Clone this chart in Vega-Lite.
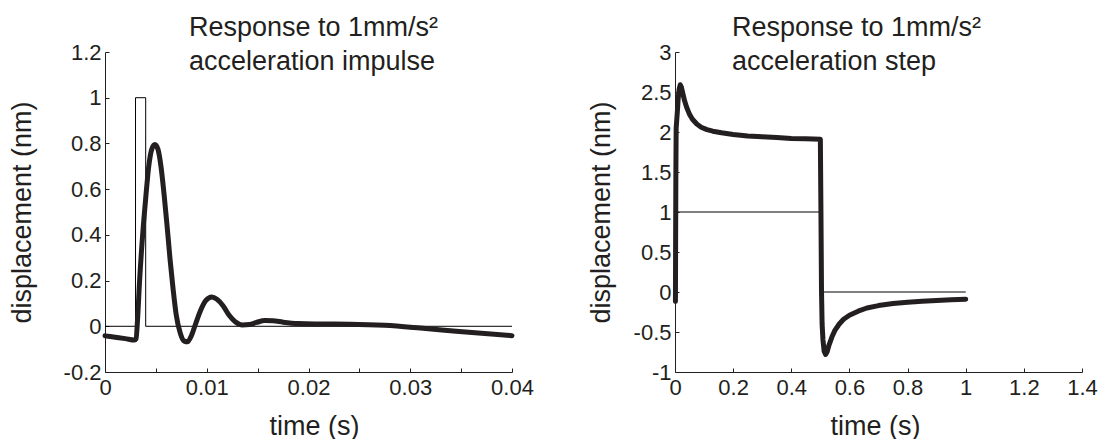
{
  "$schema": "https://vega.github.io/schema/vega-lite/v6.json",
  "padding": {"left": 8, "top": 14, "right": 0, "bottom": 0},
  "spacing": 53,
  "config": {
    "view": {"stroke": null},
    "font": "Liberation Sans",
    "locale": {"number": {"decimal": ".", "thousands": ",", "grouping": [3], "currency": ["$", ""], "minus": "-"}},
    "axis": {"grid": false, "domainColor": "#231f20", "tickColor": "#231f20", "tickSize": -4, "labelFlush": false, "labelOverlap": false, "labelFontSize": 22, "labelColor": "#231f20", "titleFontSize": 27, "titleFontWeight": "normal", "titleColor": "#231f20", "labelFont": "Liberation Sans", "titleFont": "Liberation Sans"},
    "axisX": {"labelPadding": 9},
    "axisY": {"labelPadding": 8},
    "title": {"fontSize": 27, "fontWeight": "normal", "color": "#231f20", "font": "Liberation Sans", "anchor": "start", "frame": "group", "lineHeight": 34}
  },
  "datasets": {
    "impIn": [
      {"i": 0, "t": 0, "v": 0}, {"i": 1, "t": 0.003, "v": 0}, {"i": 2, "t": 0.003, "v": 1},
      {"i": 3, "t": 0.004, "v": 1}, {"i": 4, "t": 0.004, "v": 0}, {"i": 5, "t": 0.04, "v": 0}
    ],
    "impResp": [
      {"i": 0, "t": 0, "v": -0.042}, {"i": 1, "t": 0.001, "v": -0.048}, {"i": 2, "t": 0.002, "v": -0.054}, {"i": 3, "t": 0.0029, "v": -0.06},
      {"i": 4, "t": 0.00305, "v": -0.055}, {"i": 5, "t": 0.0032, "v": 0.03}, {"i": 6, "t": 0.0034, "v": 0.2}, {"i": 7, "t": 0.0037, "v": 0.4},
      {"i": 8, "t": 0.004, "v": 0.56}, {"i": 9, "t": 0.0043, "v": 0.7}, {"i": 10, "t": 0.0046, "v": 0.775}, {"i": 11, "t": 0.0049, "v": 0.795},
      {"i": 12, "t": 0.0052, "v": 0.775}, {"i": 13, "t": 0.0055, "v": 0.7}, {"i": 14, "t": 0.0058, "v": 0.58}, {"i": 15, "t": 0.0061, "v": 0.44},
      {"i": 16, "t": 0.0064, "v": 0.29}, {"i": 17, "t": 0.0067, "v": 0.16}, {"i": 18, "t": 0.007, "v": 0.05}, {"i": 19, "t": 0.0074, "v": -0.03},
      {"i": 20, "t": 0.0078, "v": -0.065}, {"i": 21, "t": 0.0081, "v": -0.068}, {"i": 22, "t": 0.0085, "v": -0.04}, {"i": 23, "t": 0.0089, "v": 0.01},
      {"i": 24, "t": 0.0094, "v": 0.07}, {"i": 25, "t": 0.0099, "v": 0.112}, {"i": 26, "t": 0.0105, "v": 0.128}, {"i": 27, "t": 0.011, "v": 0.118},
      {"i": 28, "t": 0.0116, "v": 0.09}, {"i": 29, "t": 0.0122, "v": 0.048}, {"i": 30, "t": 0.0128, "v": 0.02}, {"i": 31, "t": 0.0135, "v": 0.006},
      {"i": 32, "t": 0.0142, "v": 0.008}, {"i": 33, "t": 0.0149, "v": 0.017}, {"i": 34, "t": 0.0157, "v": 0.025}, {"i": 35, "t": 0.0165, "v": 0.024},
      {"i": 36, "t": 0.0175, "v": 0.018}, {"i": 37, "t": 0.019, "v": 0.012}, {"i": 38, "t": 0.021, "v": 0.01}, {"i": 39, "t": 0.024, "v": 0.009},
      {"i": 40, "t": 0.0275, "v": 0.004}, {"i": 41, "t": 0.031, "v": -0.008}, {"i": 42, "t": 0.0345, "v": -0.022}, {"i": 43, "t": 0.04, "v": -0.041}
    ],
    "stepIn": [
      {"i": 0, "t": 0, "v": 0}, {"i": 1, "t": 0, "v": 1}, {"i": 2, "t": 0.5, "v": 1},
      {"i": 3, "t": 0.5, "v": 0}, {"i": 4, "t": 1, "v": 0}
    ],
    "stepResp": [
      {"i": 0, "t": 0.0015, "v": -0.12}, {"i": 1, "t": 0.002, "v": 0.5}, {"i": 2, "t": 0.003, "v": 1.5}, {"i": 3, "t": 0.004, "v": 2.05},
      {"i": 4, "t": 0.006, "v": 2.15}, {"i": 5, "t": 0.008, "v": 2.25}, {"i": 6, "t": 0.011, "v": 2.42}, {"i": 7, "t": 0.014, "v": 2.53},
      {"i": 8, "t": 0.018, "v": 2.59}, {"i": 9, "t": 0.022, "v": 2.56}, {"i": 10, "t": 0.027, "v": 2.48}, {"i": 11, "t": 0.033, "v": 2.39},
      {"i": 12, "t": 0.04, "v": 2.31}, {"i": 13, "t": 0.05, "v": 2.22}, {"i": 14, "t": 0.06, "v": 2.16}, {"i": 15, "t": 0.075, "v": 2.1},
      {"i": 16, "t": 0.09, "v": 2.06}, {"i": 17, "t": 0.11, "v": 2.03}, {"i": 18, "t": 0.13, "v": 2.01}, {"i": 19, "t": 0.16, "v": 1.99},
      {"i": 20, "t": 0.2, "v": 1.97}, {"i": 21, "t": 0.25, "v": 1.95}, {"i": 22, "t": 0.3, "v": 1.94}, {"i": 23, "t": 0.35, "v": 1.93},
      {"i": 24, "t": 0.4, "v": 1.92}, {"i": 25, "t": 0.45, "v": 1.915}, {"i": 26, "t": 0.5, "v": 1.91}, {"i": 27, "t": 0.502, "v": 1.0},
      {"i": 28, "t": 0.504, "v": 0.0}, {"i": 29, "t": 0.506, "v": -0.4}, {"i": 30, "t": 0.509, "v": -0.6}, {"i": 31, "t": 0.513, "v": -0.74},
      {"i": 32, "t": 0.518, "v": -0.78}, {"i": 33, "t": 0.523, "v": -0.75}, {"i": 34, "t": 0.53, "v": -0.66}, {"i": 35, "t": 0.54, "v": -0.56},
      {"i": 36, "t": 0.55, "v": -0.48}, {"i": 37, "t": 0.565, "v": -0.4}, {"i": 38, "t": 0.58, "v": -0.34}, {"i": 39, "t": 0.6, "v": -0.29},
      {"i": 40, "t": 0.63, "v": -0.24}, {"i": 41, "t": 0.66, "v": -0.2}, {"i": 42, "t": 0.7, "v": -0.17}, {"i": 43, "t": 0.75, "v": -0.145},
      {"i": 44, "t": 0.8, "v": -0.128}, {"i": 45, "t": 0.85, "v": -0.115}, {"i": 46, "t": 0.9, "v": -0.105}, {"i": 47, "t": 0.95, "v": -0.098},
      {"i": 48, "t": 1.0, "v": -0.09}
    ]
  },
  "hconcat": [
    {
      "width": 407,
      "height": 320,
      "title": {"text": ["Response to 1mm/s²", "acceleration impulse"], "dx": 84, "offset": -35},
      "encoding": {
        "x": {"field": "t", "type": "quantitative", "scale": {"domain": [0, 0.04], "nice": false},
          "axis": {"title": "time (s)", "values": [0, 0.005, 0.01, 0.015, 0.02, 0.025, 0.03, 0.035, 0.04], "format": ".2~f", "labelOverlap": false,
            "labelExpr": "round(datum.value*200) % 2 == 0 ? datum.label : ''", "titleX": 209, "titleY": 62, "titleBaseline": "alphabetic", "titleAlign": "center"}},
        "y": {"field": "v", "type": "quantitative", "scale": {"domain": [-0.2, 1.2], "nice": false, "zero": false},
          "axis": {"title": "displacement (nm)", "values": [-0.2, 0, 0.2, 0.4, 0.6, 0.8, 1, 1.2], "format": ".1~f", "labelOverlap": false, "titleX": -75, "titleBaseline": "alphabetic"}},
        "order": {"field": "i"}
      },
      "layer": [
        {"data": {"name": "impIn"}, "mark": {"type": "line", "color": "#000000", "strokeWidth": 1}},
        {"data": {"name": "impResp"}, "mark": {"type": "line", "color": "#231f20", "strokeWidth": 5, "interpolate": "monotone", "strokeJoin": "round", "strokeCap": "round"}}
      ]
    },
    {
      "width": 407,
      "height": 320,
      "title": {"text": ["Response to 1mm/s²", "acceleration step"], "dx": 57, "offset": -35},
      "encoding": {
        "x": {"field": "t", "type": "quantitative", "scale": {"domain": [0, 1.4], "nice": false},
          "axis": {"title": "time (s)", "values": [0, 0.2, 0.4, 0.6, 0.8, 1, 1.2, 1.4], "format": ".1~f", "labelOverlap": false,
            "titleX": 200, "titleY": 62, "titleBaseline": "alphabetic", "titleAlign": "center"}},
        "y": {"field": "v", "type": "quantitative", "scale": {"domain": [-1, 3], "nice": false, "zero": false},
          "axis": {"title": "displacement (nm)", "values": [-1, -0.5, 0, 0.5, 1, 1.5, 2, 2.5, 3], "format": ".1f", "labelExpr": "replace(datum.label, '.0', '')", "labelOverlap": false, "titleX": -66, "titleBaseline": "alphabetic"}},
        "order": {"field": "i"}
      },
      "layer": [
        {"data": {"name": "stepIn"}, "mark": {"type": "line", "color": "#000000", "strokeWidth": 1}},
        {"data": {"name": "stepResp"}, "mark": {"type": "line", "color": "#231f20", "strokeWidth": 5, "strokeJoin": "round", "strokeCap": "round"}}
      ]
    }
  ]
}
